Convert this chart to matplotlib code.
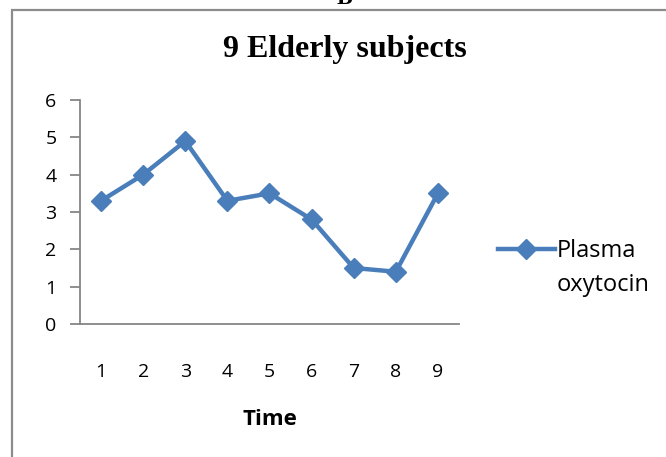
import numpy as np
import matplotlib.pyplot as plt
from matplotlib.patches import Rectangle

# data
time_points = [1, 2, 3, 4, 5, 6, 7, 8, 9]
plasma_oxytocin = [3.3, 4.0, 4.9, 3.3, 3.5, 2.8, 1.5, 1.4, 3.5]
y_ticks = [0, 1, 2, 3, 4, 5, 6]

W, H = 666, 457
fig = plt.figure(figsize=(W / 100, H / 100), dpi=100)

# outer frame of the chart object (runs off the right/bottom edge)
fig.patches.append(Rectangle((12 / W, -0.1), 1.2, (H - 10) / H + 0.1,
                             transform=fig.transFigure, fill=False,
                             edgecolor='#8c8c8c', linewidth=1.6))
# clipped caption letter above the frame
fig.text(344 / W, 1 - 4 / H, 'B', ha='center', va='baseline', fontsize=17,
         fontweight='bold', family='Liberation Serif')

ax = fig.add_axes([80 / W, (H - 324) / H, 379 / W, 224 / H])
blue = '#4a7ebb'
ax.plot(time_points, plasma_oxytocin, color=blue, linewidth=3.2,
        marker='D', markersize=10, label='Plasma')

ax.set_xlim(0.5, 9.5)
ax.set_ylim(0, 6)
ax.set_yticks(y_ticks)
ax.set_xticks(time_points)
for s in ['top', 'right']:
    ax.spines[s].set_visible(False)
for s in ['left', 'bottom']:
    ax.spines[s].set_color('#868686')
    ax.spines[s].set_linewidth(1.3)
ax.tick_params(axis='y', length=7, width=1.3, color='#868686', pad=10,
               labelsize=14)
ax.tick_params(axis='x', length=0, pad=28, labelsize=14)
for lab in ax.get_xticklabels() + ax.get_yticklabels():
    lab.set_family('Open Sans')

ax.set_xlabel('Time', fontsize=16, fontweight='bold', family='Open Sans',
              labelpad=20)
fig.text(345 / W, 1 - 50 / H, '9 Elderly subjects', ha='center', va='center',
         fontsize=23, fontweight='bold', family='Liberation Serif')

# legend: handle sits beside the first line of the label
leg = fig.legend(loc='center left', bbox_to_anchor=(498 / W, 1 - 251 / H),
                 frameon=False, handlelength=2.4, handletextpad=0.1,
                 borderpad=0, borderaxespad=0,
                 prop={'family': 'Open Sans', 'size': 17})
fig.text(557 / W, 1 - 285 / H, 'oxytocin', ha='left', va='center',
         fontsize=17, family='Open Sans')

fig.savefig('out.png', dpi=100)
